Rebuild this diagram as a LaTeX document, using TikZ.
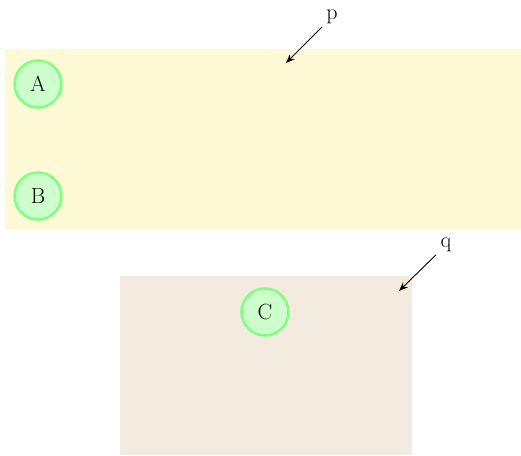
\documentclass[tikz,border=0pt]{standalone}
\usetikzlibrary{positioning, arrows.meta}

\definecolor{gruppeP}{HTML}{FFFAD6}
\definecolor{gruppeQ}{HTML}{F3EBE0}
\definecolor{knotenRand}{HTML}{80FF80}
\definecolor{knotenFuell}{HTML}{CCFFCC}

\tikzset{
  gruppe/.style={rectangle, draw=none, anchor=north west, inner sep=0pt},
  knoten/.style={circle, draw=knotenRand, fill=knotenFuell, line width=2.5pt,
                 minimum size=47pt, inner sep=0pt, font=\fontsize{22}{26}\selectfont},
  marke/.style={inner sep=1pt, font=\fontsize{22}{26}\selectfont},
  zeiger/.style={-{Stealth[length=9pt, width=7pt]}, line width=0.9pt, shorten <=5pt}
}

\begin{document}
\begin{tikzpicture}[x=1pt, y=-1pt]

\useasboundingbox (0,0) rectangle (521,455);

% Gruppen (Rechtecke)
\node[gruppe, fill=gruppeP, minimum width=516pt, minimum height=180pt] (p) at (5,49) {};
\node[gruppe, fill=gruppeQ, minimum width=292pt, minimum height=179pt] (q) at (120,276) {};

% Knoten (Kreise)
\node[knoten] (A) at (38,84) {A};
\node[knoten] (B) at (38,196) {B};
\node[knoten] (C) at (265,312) {C};

% Beschriftungen
\node[marke] (lp) at (332,17) {p};
\node[marke] (lq) at (446,245) {q};
\coordinate (ep) at (286,63);
\coordinate (eq) at (399,291);

% Pfeile
\draw[zeiger] (lp) -- (ep);
\draw[zeiger] (lq) -- (eq);

\end{tikzpicture}
\end{document}
